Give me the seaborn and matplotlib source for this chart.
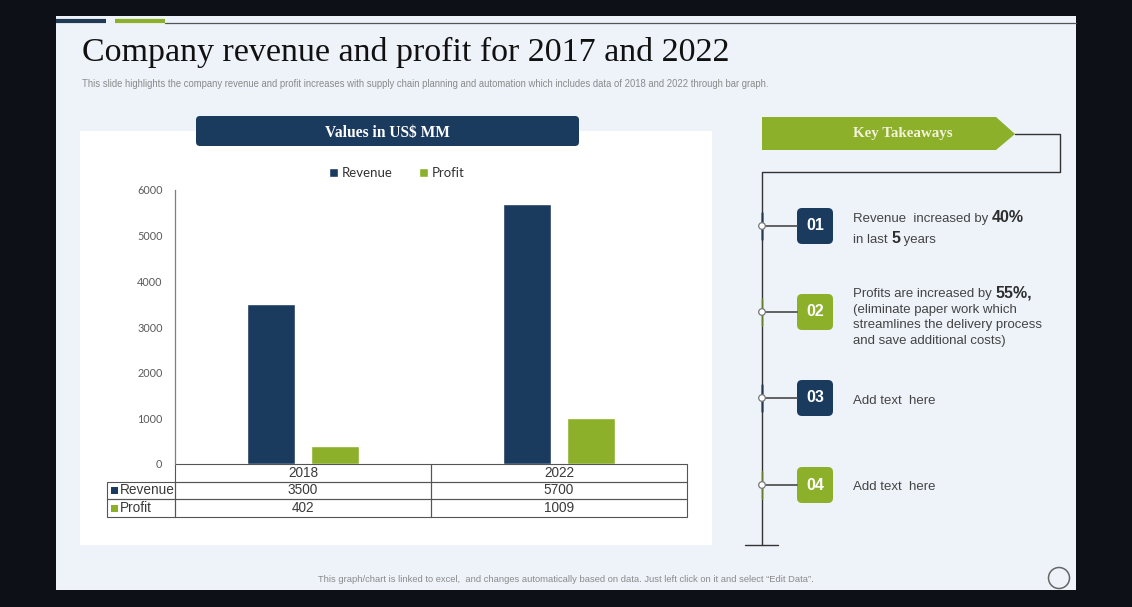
import matplotlib
matplotlib.use("Agg")
import matplotlib.pyplot as plt
import numpy as np
import pandas as pd
import seaborn as sns
from matplotlib.patches import FancyBboxPatch, Polygon, Rectangle, Circle

# ---- data -------------------------------------------------------------
years = ["2018", "2022"]
revenue = [3500, 5700]
profit = [402, 1009]
series_names = ["Revenue", "Profit"]
y_ticks = [0, 1000, 2000, 3000, 4000, 5000, 6000]

title = "Company revenue and profit for 2017 and 2022"
subtitle = ("This slide highlights the company revenue and profit increases with supply chain "
            "planning and automation which includes data of 2018 and 2022 through bar graph.")
footer = ("This graph/chart is linked to excel,  and changes automatically based on data. "
          "Just left click on it and select \u201cEdit Data\u201d.")
chart_header = "Values in US$ MM"
panel_header = "Key Takeaways"
takeaway_numbers = ["01", "02", "03", "04"]
# each takeaway: list of lines, each line a list of (text, emphasised)
takeaway_lines = [
    [[("Revenue  increased by ", False), ("40%", True)],
     [("in last ", False), ("5", True), (" years", False)]],
    [[("Profits are increased by ", False), ("55%,", True)],
     [("(eliminate paper work which", False)],
     [("streamlines the delivery process", False)],
     [("and save additional costs)", False)]],
    [[("Add text  here", False)]],
    [[("Add text  here", False)]],
]

NAVY = "#1a3a5e"
GREEN = "#8cb02a"
SLIDE = "#eef3fa"
TEXT = "#444444"

sns.set_theme(style="white")
plt.rcParams["font.family"] = ["Liberation Sans", "DejaVu Sans"]

W, H = 1132, 607
fig = plt.figure(figsize=(W / 100, H / 100), dpi=100, facecolor="#0d1017")

# background layer in pixel coordinates
bg = fig.add_axes([0, 0, 1, 1], zorder=0)
bg.set_xlim(0, W)
bg.set_ylim(H, 0)
bg.axis("off")
bg.add_patch(Rectangle((56, 16), 1020, 574, color=SLIDE, lw=0))
bg.add_patch(Rectangle((80, 131), 632, 414, color="white", lw=0))

# ---- bar chart --------------------------------------------------------
df = pd.DataFrame({
    "year": years * 2,
    "value": revenue + profit,
    "series": [series_names[0]] * len(years) + [series_names[1]] * len(years),
})

ax = fig.add_axes([175 / W, 1 - 464 / H, 512 / W, 274 / H], zorder=2)
ax.patch.set_alpha(0)
sns.barplot(data=df, x="year", y="value", hue="series", palette=[NAVY, GREEN],
            width=0.5, gap=0.265, saturation=1, ax=ax, legend=True)
ax.set_ylim(0, 6000)
ax.set_yticks(y_ticks)
ax.set_yticklabels([str(v) for v in y_ticks], fontsize=7.8, color="#5a5a5a",
                   family=["Lato", "DejaVu Sans"])
ax.tick_params(axis="y", length=0, pad=9)
ax.tick_params(axis="x", length=0, labelbottom=False)
ax.set_xlabel("")
ax.set_ylabel("")
for side in ["top", "right", "bottom"]:
    ax.spines[side].set_visible(False)
ax.spines["left"].set_color("#7f7f7f")
ax.spines["left"].set_linewidth(0.9)

handles, labels = ax.get_legend_handles_labels()
ax.legend(handles, labels, loc="center", ncol=2, frameon=False,
          bbox_to_anchor=(397 / W, 1 - 173 / H), bbox_transform=fig.transFigure,
          handlelength=0.65, handleheight=0.65, handletextpad=0.3, columnspacing=2.0,
          prop={"family": ["Lato", "DejaVu Sans"], "size": 9.5})
for t in ax.get_legend().get_texts():
    t.set_color("#333333")

# data table under the axis
cell_text = [[""] + years,
             [series_names[0]] + [str(v) for v in revenue],
             [series_names[1]] + [str(v) for v in profit]]
tbl = ax.table(cellText=cell_text, cellLoc="center", colWidths=[68, 256, 256],
               bbox=[-68 / 512, -53 / 274, 580 / 512, 53 / 274])
tbl.auto_set_font_size(False)
tbl.set_fontsize(9.8)
for (r, c), cell in tbl.get_celld().items():
    cell.set_facecolor("none")
    cell.set_edgecolor("#555555")
    cell.set_linewidth(0.8)
    cell.get_text().set_color("#3a3a3a")
    if c == 0:
        cell.get_text().set_ha("left")
        cell.PAD = 0.19
    if r == 0 and c == 0:
        cell.visible_edges = ""

# ---- foreground decorations ------------------------------------------
fg = fig.add_axes([0, 0, 1, 1], zorder=5)
fg.set_xlim(0, W)
fg.set_ylim(H, 0)
fg.axis("off")
fg.patch.set_alpha(0)

fg.plot([56, 106], [21, 21], color="#1f3a52", lw=3, solid_capstyle="butt")
fg.plot([115, 165], [21, 21], color=GREEN, lw=3, solid_capstyle="butt")
fg.plot([165, 1076], [22.5, 22.5], color="#555555", lw=0.9)

fg.text(82, 52, title, fontsize=24.5, color="#111111", va="center", ha="left",
        family=["Liberation Serif", "DejaVu Serif"])
fg.text(82, 84, subtitle, fontsize=6.85, color="#8a8a8a", va="center", ha="left")
fg.text(566, 580, footer, fontsize=6.75, color="#8a8a8a", va="center", ha="center")
fg.add_patch(Circle((1059, 578), 10.5, fill=False, ec="#666666", lw=1.1))

# chart header box
fg.add_patch(FancyBboxPatch((199, 119), 377, 24, boxstyle="round,pad=3,rounding_size=4",
                            fc=NAVY, ec="none"))
fg.text(387, 133, chart_header, fontsize=11.2, color="white", weight="bold",
        ha="center", va="center", family=["Liberation Serif", "DejaVu Serif"])

# legend squares in the table
for i, yc in enumerate([490, 508]):
    fg.add_patch(Rectangle((110.5, yc - 3.5), 7, 7, color=[NAVY, GREEN][i], lw=0))

# key takeaways banner and timeline
fg.add_patch(Polygon([(762, 117), (996, 117), (1015, 134), (996, 150), (762, 150)],
                     closed=True, fc=GREEN, ec="none"))
fg.text(903, 134, panel_header, fontsize=10.8, color="#f4f2dc", weight="bold",
        ha="center", va="center", family=["Liberation Serif", "DejaVu Serif"])
fg.plot([1015, 1060, 1060, 762, 762], [134, 134, 172, 172, 545], color="#333333", lw=1)
fg.plot([745, 778], [545, 545], color="#333333", lw=1)

renderer = fig.canvas.get_renderer()
item_y = [226, 312, 398, 485]
first_baseline = [222, 297, 404, 490]
for i, (num, lines) in enumerate(zip(takeaway_numbers, takeaway_lines)):
    col = NAVY if i % 2 == 0 else GREEN
    yc = item_y[i]
    fg.plot([762, 762], [yc - 13, yc + 13], color=col, lw=2, alpha=0.6)
    fg.plot([762, 797], [yc, yc], color="#555555", lw=1.3)
    fg.add_patch(Circle((762, yc), 3.3, fc="white", ec="#777777", lw=0.9, zorder=4))
    fg.add_patch(FancyBboxPatch((800, yc - 15), 30, 30, boxstyle="round,pad=3,rounding_size=5",
                                fc=col, ec="none"))
    fg.text(815, yc, num, fontsize=11.5, color="white", weight="bold", ha="center", va="center")
    base = first_baseline[i]
    for j, line in enumerate(lines):
        x = 853
        yb = base + j * (21 if i == 0 else 15.7)
        for txt, emph in line:
            t = fg.text(x, yb, txt, fontsize=11.5 if emph else 9.5,
                        weight="bold" if emph else "normal",
                        color="#2e2e2e" if emph else TEXT, ha="left", va="baseline")
            bb = t.get_window_extent(renderer=renderer)
            x += bb.width

fig.savefig("out.png", dpi=100, facecolor=fig.get_facecolor())
